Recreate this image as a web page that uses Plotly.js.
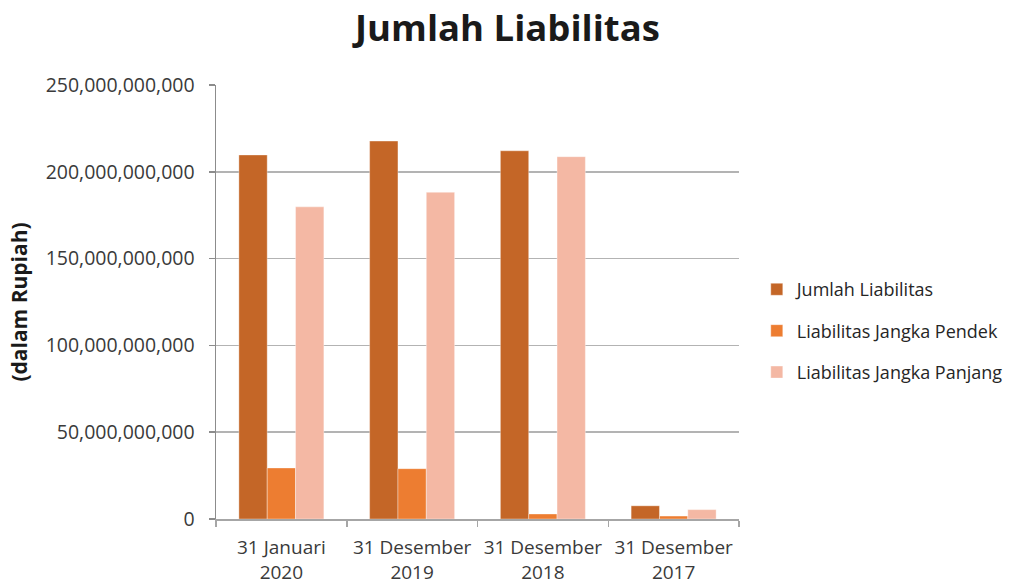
<!DOCTYPE html>
<html>
<head>
<meta charset="utf-8">
<script src="https://cdn.plot.ly/plotly-3.0.1.min.js"></script>
<style>html,body{margin:0;padding:0;background:#fff;}#chart{width:1021px;height:585px;}</style>
</head>
<body>
<div id="chart"></div>
<script>
const categories = ["31 Januari<br>2020", "31 Desember<br>2019", "31 Desember<br>2018", "31 Desember<br>2017"];
const seriesNames = ["Jumlah Liabilitas", "Liabilitas Jangka Pendek", "Liabilitas Jangka Panjang"];
const jumlahLiabilitas = [209700000000, 217700000000, 212100000000, 7600000000];
const liabilitasPendek = [29400000000, 29000000000, 2900000000, 1700000000];
const liabilitasPanjang = [179800000000, 188200000000, 208700000000, 5400000000];
const colors = ["#C46627", "#ED7D31", "#F4B8A4"];
const seriesValues = [jumlahLiabilitas, liabilitasPendek, liabilitasPanjang];
const yTickVals = [0, 50000000000, 100000000000, 150000000000, 200000000000, 250000000000];
const yTickText = ["0", "50,000,000,000", "100,000,000,000", "150,000,000,000", "200,000,000,000", "250,000,000,000"];

const font = "Open Sans, Noto Sans, sans-serif";
const traces = seriesValues.map((vals, i) => ({
  type: "bar",
  name: seriesNames[i],
  x: categories,
  y: vals,
  legendgroup: "g" + i,
  marker: {color: colors[i], line: {color: "rgba(255,255,255,0.6)", width: 0.6}},
  hoverinfo: "y+name"
}));

const layout = {
  width: 1021, height: 585,
  paper_bgcolor: "#ffffff", plot_bgcolor: "#ffffff",
  margin: {l: 216, r: 282, t: 85, b: 66, autoexpand: false},
  barmode: "group",
  bargap: 0.35,
  bargroupgap: 0,
  title: {text: "<b>Jumlah Liabilitas</b>", x: 0.497, xanchor: "center", y: 0.952, yanchor: "middle",
          font: {family: font, size: 36.5, color: "#1a1a1a"}},
  font: {family: font, color: "#3a3a3a"},
  xaxis: {
    type: "category",
    showline: true, linecolor: "#a6a6a6", linewidth: 1.5,
    ticks: "outside", tickson: "boundaries", ticklen: 6, tickcolor: "#a6a6a6", tickwidth: 1.5,
    tickfont: {family: font, size: 19, color: "#3a3a3a"},
    tickangle: 0,
    ticklabelstandoff: 11,
    showgrid: false, automargin: false
  },
  yaxis: {
    range: [0, 250000000000],
    tickvals: yTickVals, ticktext: yTickText,
    showline: true, linecolor: "#8c8c8c", linewidth: 1.5,
    ticks: "outside", ticklen: 6, tickcolor: "#8c8c8c", tickwidth: 1.5,
    ticklabelstandoff: 10,
    showgrid: true, gridcolor: "#b3b3b3", gridwidth: 1.5,
    zeroline: false,
    tickfont: {family: font, size: 19.5, color: "#3a3a3a"},
    title: {text: "<b>(dalam Rupiah)</b>", standoff: 12, font: {family: font, size: 21, color: "#1a1a1a"}},
    automargin: false
  },
  showlegend: true,
  legend: {
    x: 1.034, xanchor: "left", y: 0.433, yanchor: "middle",
    traceorder: "grouped", tracegroupgap: 15,
    font: {family: font, size: 18, color: "#262626"},
    bgcolor: "rgba(0,0,0,0)"
  }
};

Plotly.newPlot("chart", traces, layout, {displayModeBar: false, staticPlot: true});
</script>
</body>
</html>
